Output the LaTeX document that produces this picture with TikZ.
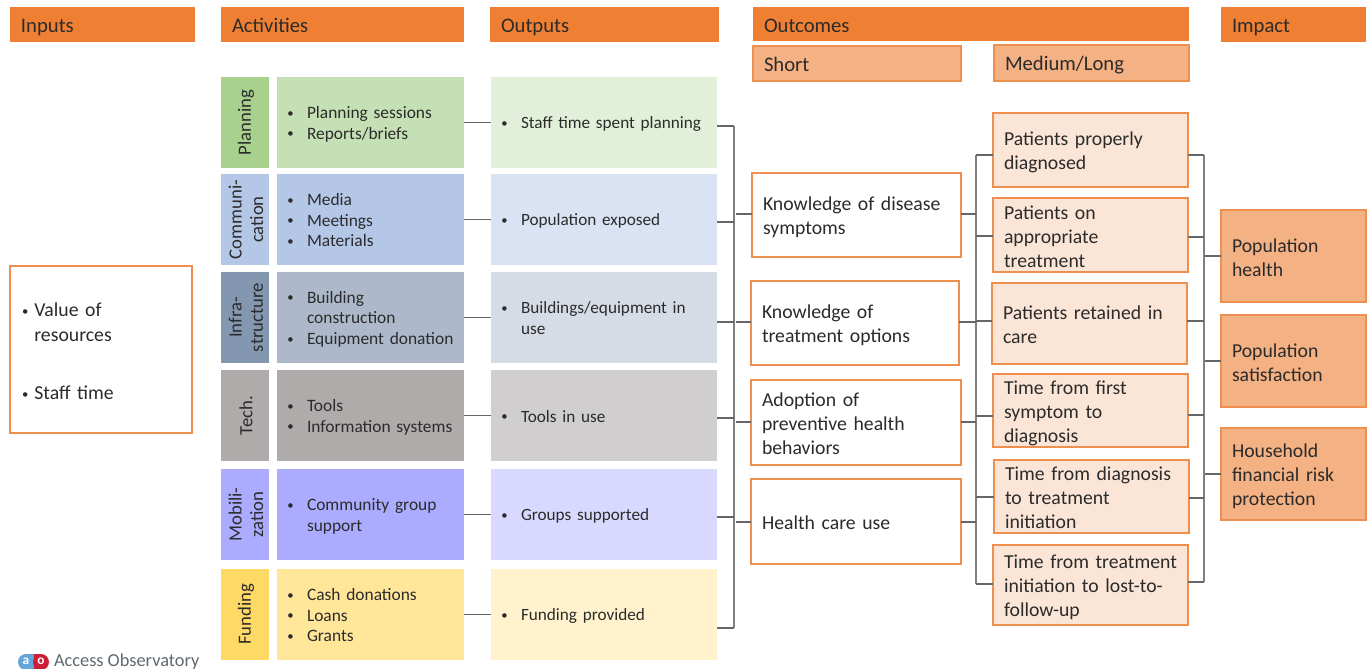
\documentclass[tikz,border=0pt]{standalone}
\usepackage{fontspec}
\setmainfont{Carlito}
\definecolor{hdr}{HTML}{EF8033}
\definecolor{sub}{HTML}{F4B183}
\definecolor{lite}{HTML}{FBE5D6}
\definecolor{edge}{HTML}{EE8F4F}
\definecolor{ink}{HTML}{2B2B2B}
\definecolor{cona}{HTML}{C5E0B4}\definecolor{conb}{HTML}{A9D18E}\definecolor{conc}{HTML}{E2F0D9}
\definecolor{coma}{HTML}{B4C7E7}\definecolor{comc}{HTML}{DAE3F3}
\definecolor{infb}{HTML}{8497B0}\definecolor{infa}{HTML}{ADB9CA}\definecolor{infc}{HTML}{D6DCE5}
\definecolor{teca}{HTML}{AFABAB}\definecolor{tecc}{HTML}{D0CECE}
\definecolor{moba}{HTML}{ABABFF}\definecolor{mobc}{HTML}{D9D9FF}
\definecolor{funb}{HTML}{FFD966}\definecolor{funa}{HTML}{FFE699}\definecolor{func}{HTML}{FFF2CC}
\definecolor{logot}{HTML}{5F6870}
\definecolor{logob}{HTML}{62A6DC}
\definecolor{logor}{HTML}{CC1F36}
\newcommand{\tb}[7]{% boxed text with fixed text width
  \pgfmathsetmacro{\bw}{(#4-#2)*0.75}\pgfmathsetmacro{\bh}{(#5-#3)*0.75}\pgfmathsetmacro{\tw}{\bw-16.5}
  \node[#6,text width=\tw pt,minimum height=\bh pt] (#1) at ({(#2+#4)/2},{(#3+#5)/2}) {\rule{0pt}{14pt}#7\rule[-1.3pt]{0pt}{1.3pt}};}
\newcommand{\dotb}{\raisebox{.9pt}{\fontsize{9.5}{9.5}\selectfont\textbullet}}
\newcommand{\ii}[1]{\leavevmode\hspace*{17pt}\llap{\dotb\hspace{10pt}}#1}
\newcommand{\iin}[1]{\leavevmode\hspace*{17pt}#1}
\newcommand{\jj}[1]{\leavevmode\hspace*{10pt}\llap{\dotb\hspace{4.5pt}}#1}
\tikzset{
  every node/.style={inner sep=0pt,outer sep=0pt,text=ink,font=\fontsize{14.8}{18}\selectfont},
  head/.style={fill=hdr,align=left,inner xsep=8.25pt,font=\fontsize{15.5}{18}\selectfont},
  subh/.style={fill=sub,draw=edge,line width=.8pt,align=left,inner xsep=8.25pt,font=\fontsize{15.5}{18}\selectfont},
  white box/.style={fill=white,draw=edge,line width=1.1pt,align=left,inner xsep=8.25pt},
  lite box/.style={fill=lite,draw=edge,line width=1.1pt,align=left,inner xsep=8.25pt},
  imp box/.style={fill=sub,draw=edge,line width=1.1pt,align=left,inner xsep=8.25pt},
  side/.style={rotate=90,align=center,font=\fontsize{14}{16}\selectfont},
  det/.style={align=left,font=\fontsize{13.05}{15.5}\selectfont},
  outp/.style={align=left,font=\fontsize{12.9}{15.5}\selectfont},
  conn/.style={draw=black!60,line width=.8pt},
  bus/.style={draw=black!50,line width=1.1pt},
  logoletter/.style={font=\fontsize{10}{10}\selectfont\bfseries,text=white},
}
\begin{document}
\begin{tikzpicture}[x=0.75pt,y=-0.75pt]
\useasboundingbox (0,0) rectangle (1368,668);
% headers
\tb{hi}{10}{7}{195}{42}{head}{Inputs}
\tb{ha}{221}{7}{464}{42}{head}{Activities}
\tb{ho}{490}{7}{719}{42}{head}{Outputs}
\tb{hc}{753}{7}{1189}{41}{head}{Outcomes}
\tb{hm}{1221}{7}{1366}{42}{head}{Impact}
\tb{hs}{753}{46}{961}{81}{subh}{Short}
\tb{hl}{994}{45}{1189}{81}{subh}{Medium/Long}
% inputs
\tb{inp}{10}{266}{192}{433}{white box}{\jj{Value of}\\[.75pt]\hspace*{10pt}resources\\[25.5pt]\jj{Staff time}}
% side labels
\newcommand{\sd}[5]{\fill[#4] (221,#2) rectangle (269,#3);\node[side] (#1) at (246,{(#2+#3)/2}) {#5};}
\sd{s1}{77}{168}{conb}{Planning}
\sd{s2}{174}{265}{coma}{Communi-\\cation}
\sd{s3}{272}{363}{infb}{Infra-\\structure}
\sd{s4}{370}{461}{teca}{Tech.}
\sd{s5}{469}{560}{moba}{Mobili-\\zation}
\sd{s6}{569}{660}{funb}{Funding}
\newcommand{\dt}[5]{\pgfmathsetmacro{\tw}{(464-277)*0.75-11}\node[det,fill=#4,minimum height=68.25pt,text width=\tw pt,inner xsep=5.5pt,anchor=west] (#1) at (277,{(#2+#3)/2}) {\rule{0pt}{11.5pt}#5\rule[-1.7pt]{0pt}{1.7pt}};}
\newcommand{\ot}[5]{\pgfmathsetmacro{\tw}{(717-491)*0.75-11}\node[outp,fill=#4,minimum height=68.25pt,text width=\tw pt,inner xsep=5.5pt,anchor=west] (#1) at (491,{(#2+#3)/2}) {\rule{0pt}{11.5pt}#5\rule[-1.7pt]{0pt}{1.7pt}};}
\dt{d1}{77}{168}{cona}{\ii{Planning sessions}\\\ii{Reports/briefs}}
\dt{d2}{174}{265}{coma}{\ii{Media}\\\ii{Meetings}\\\ii{Materials}}
\dt{d3}{272}{363}{infa}{\ii{Building}\\\iin{construction}\\\ii{Equipment donation}}
\dt{d4}{370}{461}{teca}{\ii{Tools}\\\ii{Information systems}}
\dt{d5}{469}{560}{moba}{\ii{Community group}\\\iin{support}}
\dt{d6}{569}{660}{funa}{\ii{Cash donations}\\\ii{Loans}\\\ii{Grants}}
\ot{o1}{77}{168}{conc}{\ii{Staff time spent planning}}
\ot{o2}{174}{265}{comc}{\ii{Population exposed}}
\ot{o3}{272}{363}{infc}{\ii{Buildings/equipment in}\\\iin{use}}
\ot{o4}{370}{461}{tecc}{\ii{Tools in use}}
\ot{o5}{469}{560}{mobc}{\ii{Groups supported}}
\ot{o6}{569}{660}{func}{\ii{Funding provided}}
% short
\tb{a1}{752}{173}{961}{257}{white box}{Knowledge of disease\\symptoms}
\tb{a2}{751}{281}{959}{365}{white box}{Knowledge of\\treatment options}
\tb{a3}{751}{380}{961}{465}{white box}{Adoption of\\preventive health\\behaviors}
\tb{a4}{751}{479}{961}{564}{white box}{Health care use}
% medium
\tb{b1}{993}{113}{1188}{187}{lite box}{Patients properly\\diagnosed}
\tb{b2}{993}{198}{1188}{272}{lite box}{Patients on\\appropriate\\treatment}
\tb{b3}{992}{283}{1187}{364}{lite box}{Patients retained in\\care}
\tb{b4}{993}{374}{1188}{447}{lite box}{Time from first\\symptom to\\diagnosis}
\tb{b5}{994}{460}{1189}{533}{lite box}{Time from diagnosis\\to treatment\\initiation}
\tb{b6}{993}{545}{1188}{625}{lite box}{Time from treatment\\initiation to lost-to-\\follow-up}
% impact
\tb{c1}{1221}{210}{1366}{302}{imp box}{Population\\health}
\tb{c2}{1221}{315}{1366}{407}{imp box}{Population\\satisfaction}
\tb{c3}{1221}{428}{1366}{520}{imp box}{Household\\financial risk\\protection}
% connectors
\foreach \i in {1,...,6}{\draw[conn] (d\i.east) -- (o\i.west);}
\foreach \n/\x/\y in {p1/734/126,p2/734/222,p3/734/322,p4/734/418,p5/734/517,p6/734/628,
  q1/976/155,q2/976/236,q3/976/321,q4/976/416,q5/976/497,q6/976/584,
  r1/1204/155,r2/1204/237,r3/1204/321,r4/1204/415,r5/1204/498,r6/1204/582,
  u1/736/214,u2/736/322,u3/736/422,u4/736/522,
  v1/976/214,v2/976/322,v3/976/422,v4/976/522,
  w1/1205/256,w2/1205/361,w3/1205/474}{\coordinate (\n) at (\x,\y);}
\draw[bus] (p1) -- (p6);\draw[bus] (q1) -- (q6);\draw[bus] (r1) -- (r6);
\foreach \i in {1,...,6}{
  \draw[conn] (o\i.east |- p\i) -- (p\i);
  \draw[conn] (q\i) -- (b\i.west |- q\i);
  \draw[conn] (b\i.east |- r\i) -- (r\i);}
\foreach \i in {1,...,4}{
  \draw[conn] (u\i) -- (a\i.west |- u\i);
  \draw[conn] (a\i.east |- v\i) -- (v\i);}
\foreach \i in {1,...,3}{\draw[conn] (w\i) -- (c\i.west |- w\i);}
% logo
\fill[logob] (26,662) circle (8);
\fill[logob] (26,654) rectangle (33.5,670);
\fill[logor] (41,662) circle (8);
\fill[logor] (33.5,654) rectangle (41,670);
\node[logoletter] (la) at (26,661) {a};
\node[logoletter] (lo) at (41,661) {o};
\node[anchor=base west,text=logot,font=\fontsize{13.75}{14}\selectfont] (lt) at (54,666.5) {Access Observatory};
\end{tikzpicture}
\end{document}
